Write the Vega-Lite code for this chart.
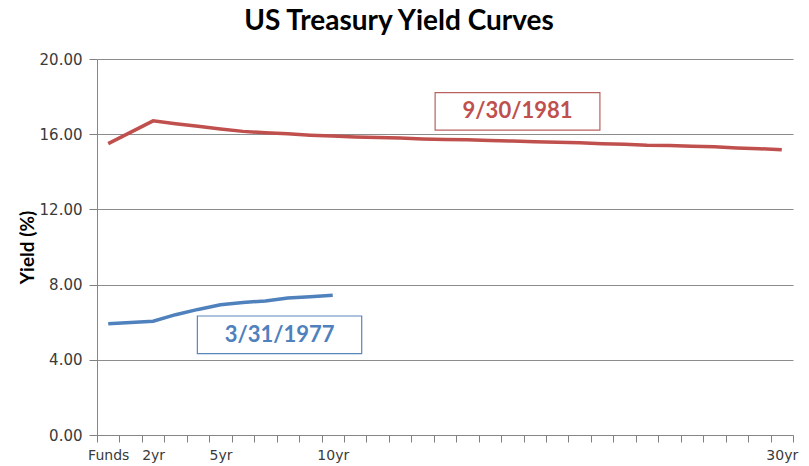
{
  "$schema": "https://vega.github.io/schema/vega-lite/v6.json",
  "width": 696,
  "height": 376,
  "autosize": "none",
  "padding": {"left": 97, "top": 59, "right": 16, "bottom": 31},
  "background": "white",
  "title": {
    "text": "US Treasury Yield Curves",
    "font": "Lato",
    "fontSize": 28,
    "fontWeight": "bold",
    "color": "#000000",
    "anchor": "middle",
    "frame": "group",
    "dx": -46,
    "offset": -6,
    "baseline": "alphabetic"
  },
  "config": {
    "view": {"stroke": null},
    "axis": {"labelFont": "DejaVu Sans", "labelColor": "#3a3a3a", "domainColor": "#868686", "tickColor": "#808080", "gridColor": "#8c8c8c"}
  },
  "datasets": {
    "curves": [
      {"series": "9/30/1981", "tenor": "Funds", "maturity": 0, "yield": 15.5},
      {"series": "9/30/1981", "tenor": "2yr", "maturity": 2, "yield": 16.71},
      {"series": "9/30/1981", "tenor": "3yr", "maturity": 3, "yield": 16.56},
      {"series": "9/30/1981", "tenor": "4yr", "maturity": 4, "yield": 16.42},
      {"series": "9/30/1981", "tenor": "5yr", "maturity": 5, "yield": 16.28},
      {"series": "9/30/1981", "tenor": "6yr", "maturity": 6, "yield": 16.15},
      {"series": "9/30/1981", "tenor": "7yr", "maturity": 7, "yield": 16.08},
      {"series": "9/30/1981", "tenor": "8yr", "maturity": 8, "yield": 16.02},
      {"series": "9/30/1981", "tenor": "9yr", "maturity": 9, "yield": 15.95},
      {"series": "9/30/1981", "tenor": "10yr", "maturity": 10, "yield": 15.9},
      {"series": "9/30/1981", "tenor": "11yr", "maturity": 11, "yield": 15.85},
      {"series": "9/30/1981", "tenor": "12yr", "maturity": 12, "yield": 15.82},
      {"series": "9/30/1981", "tenor": "13yr", "maturity": 13, "yield": 15.8},
      {"series": "9/30/1981", "tenor": "14yr", "maturity": 14, "yield": 15.75},
      {"series": "9/30/1981", "tenor": "15yr", "maturity": 15, "yield": 15.72},
      {"series": "9/30/1981", "tenor": "16yr", "maturity": 16, "yield": 15.7},
      {"series": "9/30/1981", "tenor": "17yr", "maturity": 17, "yield": 15.66},
      {"series": "9/30/1981", "tenor": "18yr", "maturity": 18, "yield": 15.64},
      {"series": "9/30/1981", "tenor": "19yr", "maturity": 19, "yield": 15.6},
      {"series": "9/30/1981", "tenor": "20yr", "maturity": 20, "yield": 15.57},
      {"series": "9/30/1981", "tenor": "21yr", "maturity": 21, "yield": 15.54},
      {"series": "9/30/1981", "tenor": "22yr", "maturity": 22, "yield": 15.49},
      {"series": "9/30/1981", "tenor": "23yr", "maturity": 23, "yield": 15.46},
      {"series": "9/30/1981", "tenor": "24yr", "maturity": 24, "yield": 15.41},
      {"series": "9/30/1981", "tenor": "25yr", "maturity": 25, "yield": 15.4},
      {"series": "9/30/1981", "tenor": "26yr", "maturity": 26, "yield": 15.36},
      {"series": "9/30/1981", "tenor": "27yr", "maturity": 27, "yield": 15.33},
      {"series": "9/30/1981", "tenor": "28yr", "maturity": 28, "yield": 15.27},
      {"series": "9/30/1981", "tenor": "29yr", "maturity": 29, "yield": 15.23},
      {"series": "9/30/1981", "tenor": "30yr", "maturity": 30, "yield": 15.17},
      {"series": "3/31/1977", "tenor": "Funds", "maturity": 0, "yield": 5.92},
      {"series": "3/31/1977", "tenor": "2yr", "maturity": 2, "yield": 6.05},
      {"series": "3/31/1977", "tenor": "3yr", "maturity": 3, "yield": 6.4},
      {"series": "3/31/1977", "tenor": "4yr", "maturity": 4, "yield": 6.68},
      {"series": "3/31/1977", "tenor": "5yr", "maturity": 5, "yield": 6.93},
      {"series": "3/31/1977", "tenor": "6yr", "maturity": 6, "yield": 7.05},
      {"series": "3/31/1977", "tenor": "7yr", "maturity": 7, "yield": 7.13},
      {"series": "3/31/1977", "tenor": "8yr", "maturity": 8, "yield": 7.29},
      {"series": "3/31/1977", "tenor": "9yr", "maturity": 9, "yield": 7.36},
      {"series": "3/31/1977", "tenor": "10yr", "maturity": 10, "yield": 7.43}
    ]
  },
  "layer": [
    {
      "data": {"name": "curves"},
      "mark": {"type": "line", "strokeWidth": 3.5, "clip": false},
      "encoding": {
        "x": {
          "field": "maturity",
          "type": "quantitative",
          "scale": {"domain": [-0.5, 30.5], "nice": false, "zero": false},
          "axis": {
            "title": null,
            "tickCount": 40,
            "values": [-0.5, 0.5, 1.5, 2.5, 3.5, 4.5, 5.5, 6.5, 7.5, 8.5, 9.5, 10.5, 11.5, 12.5, 13.5, 14.5, 15.5, 16.5, 17.5, 18.5, 19.5, 20.5, 21.5, 22.5, 23.5, 24.5, 25.5, 26.5, 27.5, 28.5, 29.5, 30.5],
            "labelExpr": "datum.value == -0.5 ? 'Funds' : (datum.value == 1.5 || datum.value == 4.5 || datum.value == 9.5 || datum.value == 29.5) ? (datum.value + 0.5) + 'yr' : ''",
            "labelOffset": 11.23,
            "labelOverlap": false,
            "labelFlush": false,
            "labelBound": false,
            "labelFontSize": 14,
            "labelPadding": 6,
            "tickSize": 7,
            "tickRound": true,
            "grid": false
          }
        },
        "y": {
          "field": "yield",
          "type": "quantitative",
          "scale": {"domain": [0, 20], "nice": false},
          "axis": {
            "title": "Yield (%)",
            "titleFont": "Lato",
            "titleFontSize": 19,
            "titleFontWeight": "bold",
            "titleColor": "#000000",
            "titlePadding": 2,
            "values": [0, 4, 8, 12, 16, 20],
            "format": ".2f",
            "labelFontSize": 15,
            "labelPadding": 7,
            "tickSize": 8,
            "grid": true
          }
        },
        "color": {
          "field": "series",
          "type": "nominal",
          "scale": {"domain": ["9/30/1981", "3/31/1977"], "range": ["#c0504d", "#4f81bd"]},
          "legend": null
        },
        "detail": {"field": "series"}
      }
    },
    {
      "data": {"values": [{"series": "9/30/1981"}]},
      "mark": {"type": "rect", "fill": "white", "stroke": "#b9625f", "strokeWidth": 1.2},
      "encoding": {
        "x": {"datum": 14.56, "type": "quantitative"},
        "x2": {"datum": 21.9},
        "y": {"datum": 18.21, "type": "quantitative"},
        "y2": {"datum": 16.22}
      }
    },
    {
      "data": {"values": [{"series": "9/30/1981"}]},
      "mark": {"type": "text", "font": "Lato", "fontSize": 22, "fontWeight": "bold", "color": "#c0504d", "align": "center", "baseline": "middle"},
      "encoding": {
        "x": {"datum": 18.23, "type": "quantitative"},
        "y": {"datum": 17.22, "type": "quantitative"},
        "text": {"field": "series"}
      }
    },
    {
      "data": {"values": [{"series": "3/31/1977"}]},
      "mark": {"type": "rect", "fill": "white", "stroke": "#5a86bb", "strokeWidth": 1.2},
      "encoding": {
        "x": {"datum": 3.97, "type": "quantitative"},
        "x2": {"datum": 11.29},
        "y": {"datum": 6.33, "type": "quantitative"},
        "y2": {"datum": 4.33}
      }
    },
    {
      "data": {"values": [{"series": "3/31/1977"}]},
      "mark": {"type": "text", "font": "Lato", "fontSize": 22, "fontWeight": "bold", "color": "#4f81bd", "align": "center", "baseline": "middle"},
      "encoding": {
        "x": {"datum": 7.63, "type": "quantitative"},
        "y": {"datum": 5.3, "type": "quantitative"},
        "text": {"field": "series"}
      }
    }
  ]
}
